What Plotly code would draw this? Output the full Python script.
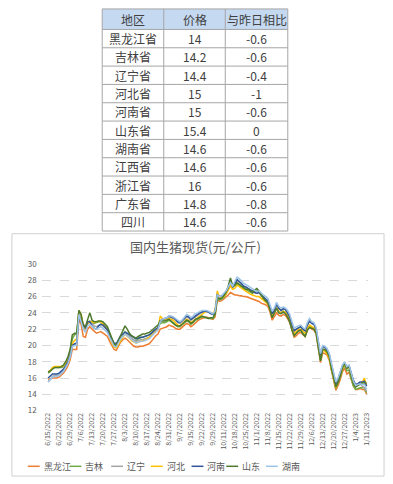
import plotly.graph_objects as go

# ---------------- table data ----------------
table_header = ["地区", "价格", "与昨日相比"]
table_regions = ["黑龙江省", "吉林省", "辽宁省", "河北省", "河南省", "山东省",
                 "湖南省", "江西省", "浙江省", "广东省", "四川"]
table_prices = [14, 14.2, 14.4, 15, 15, 15.4, 14.6, 14.6, 16, 14.8, 14.6]
table_changes = [-0.6, -0.6, -0.4, -1, -0.6, 0, -0.6, -0.6, -0.6, -0.8, -0.6]

# ---------------- chart data ----------------
chart_title = "国内生猪现货(元/公斤)"
tick_labels = ["6/15/2022", "6/22/2022", "6/29/2022", "7/6/2022", "7/13/2022", "7/20/2022",
               "7/27/2022", "8/3/2022", "8/10/2022", "8/17/2022", "8/24/2022", "8/31/2022",
               "9/7/2022", "9/15/2022", "9/22/2022", "9/29/2022", "10/11/2022", "10/18/2022",
               "10/25/2022", "11/1/2022", "11/8/2022", "11/15/2022", "11/22/2022", "11/29/2022",
               "12/6/2022", "12/13/2022", "12/20/2022", "12/27/2022", "1/4/2023", "1/11/2023"]
label_step = 5  # one tick label every 5 trading days

heilongjiang = [15.8,15.9,16.0,16.0,16.0,16.1,16.3,16.6,17.0,17.5,
18.2,19.5,19.5,19.5,23.2,22.6,21.1,21.0,22.0,22.3,
22.0,21.7,21.5,21.6,21.7,21.5,21.3,21.1,20.5,20.0,
19.5,19.4,19.9,20.4,20.7,20.9,20.7,20.4,20.1,19.9,
19.8,19.8,19.9,19.9,20.0,20.1,20.2,20.5,20.9,21.2,
21.4,22.0,22.1,22.2,22.3,22.5,22.4,22.3,22.1,22.0,
22.0,22.2,22.5,22.7,22.6,22.3,22.5,22.8,23.0,23.2,
23.3,23.4,23.5,23.4,23.3,23.2,23.5,25.6,25.4,25.5,
25.7,25.9,26.2,26.5,26.3,26.2,26.2,26.1,26.1,26.0,
26.0,25.9,25.8,25.7,25.6,25.5,25.4,25.2,25.1,25.0,
24.8,24.1,23.1,23.5,24.0,23.7,23.6,23.8,23.7,23.3,
22.8,21.9,21.0,21.2,21.5,21.6,21.3,21.1,21.8,22.3,
22.0,21.9,21.4,19.8,17.9,19.1,19.0,18.8,18.2,16.9,
15.6,14.5,15.1,15.8,16.8,17.2,16.5,16.7,15.8,15.0,
14.6,14.6,14.7,14.6,14.6,14.0]

jilin = [16.6,16.8,17.2,17.3,17.3,17.3,17.3,17.4,17.8,18.3,
19.2,20.8,21.3,21.4,24.2,23.6,22.5,22.2,22.9,23.0,
22.8,22.7,22.8,22.9,22.9,22.7,22.4,22.1,21.4,20.6,
20.0,19.8,20.3,20.8,21.2,21.7,21.4,21.0,20.8,20.6,
20.5,20.8,20.9,21.0,21.1,21.2,21.3,21.5,21.8,21.9,
22.1,22.7,22.8,22.8,22.9,23.1,22.9,22.6,22.4,22.3,
22.3,22.5,22.8,23.0,22.9,22.6,22.8,23.1,23.2,23.4,
23.5,23.5,23.4,23.3,23.3,23.3,23.8,25.8,25.6,25.7,
25.9,26.3,27.0,27.9,27.2,27.3,27.6,27.4,27.1,26.9,
26.8,26.7,26.5,26.4,26.6,26.8,26.6,26.1,25.7,25.5,
25.3,24.5,23.5,24.0,24.6,24.1,24.0,24.2,24.0,23.6,
23.0,22.0,21.3,21.6,21.8,21.9,21.5,21.2,22.0,22.3,
22.2,22.1,21.6,19.9,18.2,19.4,19.4,19.1,18.5,17.0,
15.8,14.7,15.4,16.1,17.1,17.5,16.9,17.0,15.9,15.0,
14.6,14.7,14.8,14.8,14.8,14.2]

liaoning = [15.5,15.9,16.2,16.3,16.3,16.4,16.6,16.9,17.4,17.9,
18.6,19.9,20.1,20.2,24.1,23.3,22.4,21.9,22.7,22.9,
22.6,22.4,22.3,22.5,22.6,22.4,22.1,21.9,21.3,20.7,
20.2,20.0,20.5,21.0,21.3,21.6,21.4,21.1,20.9,20.7,
20.5,20.6,20.7,20.7,20.8,20.9,21.0,21.3,21.6,21.8,
22.1,22.9,23.1,23.2,23.3,23.5,23.4,23.3,23.1,22.8,
22.7,22.9,23.2,23.5,23.4,23.1,23.3,23.6,23.7,23.9,
24.0,24.1,24.2,24.1,23.9,23.8,24.1,26.1,25.9,26.0,
26.2,26.5,27.0,27.8,27.1,27.4,28.0,27.8,27.5,27.2,
27.1,27.0,26.8,26.6,26.5,26.4,26.5,26.2,25.9,25.7,
25.5,24.8,23.9,24.3,25.0,24.5,24.3,24.5,24.4,24.0,
23.5,22.6,21.8,22.0,22.2,22.3,22.0,21.8,22.5,23.0,
22.7,22.6,22.0,20.4,18.7,19.8,19.7,19.4,18.8,17.5,
16.2,15.2,15.8,16.5,17.4,17.8,17.2,17.4,16.4,15.5,
15.0,15.1,15.3,15.0,14.8,14.4]

hebei = [16.8,16.9,17.3,17.4,17.4,17.4,17.4,17.5,17.9,18.2,
18.9,20.2,20.6,20.8,24.3,23.8,22.6,22.0,22.7,22.9,
22.9,22.8,22.9,23.0,22.9,22.6,22.2,21.9,21.1,20.3,
19.8,19.7,20.1,20.6,21.0,21.4,21.2,20.9,20.6,20.4,
20.3,20.4,20.5,20.6,20.6,20.8,20.9,21.2,21.5,21.7,
22.0,23.6,23.3,23.2,23.2,23.3,23.2,23.1,22.8,22.5,
22.4,22.6,22.9,23.2,23.1,22.8,23.0,23.3,23.5,23.7,
23.8,24.0,24.2,24.1,24.0,23.9,24.3,26.7,25.9,25.9,
26.0,26.3,26.8,27.3,26.9,27.0,27.4,27.2,27.0,26.8,
26.7,26.5,26.3,26.2,26.1,26.0,26.0,25.8,25.5,25.3,
25.1,24.5,23.6,24.0,24.6,24.2,24.0,24.2,24.1,23.7,
23.2,22.3,21.5,21.7,22.0,22.0,21.7,21.5,22.1,22.5,
22.3,22.2,21.7,20.0,18.4,19.5,19.3,19.0,18.4,17.1,
15.8,14.8,15.5,16.2,17.2,17.7,17.2,17.4,16.3,15.4,
15.0,15.1,15.3,15.5,16.0,15.0]

henan = [16.0,16.3,16.5,16.5,16.5,16.6,16.8,17.1,17.5,18.0,
18.8,20.0,20.2,20.3,23.6,22.9,22.6,22.1,22.9,22.9,
22.4,22.1,22.0,22.4,22.6,22.5,22.2,21.9,21.3,20.8,
20.3,20.2,20.7,21.2,21.4,21.6,21.5,21.3,21.1,20.9,
20.8,20.9,21.0,21.0,21.1,21.2,21.3,21.5,21.8,22.0,
22.2,23.0,23.2,23.3,23.4,23.6,23.5,23.4,23.2,22.9,
22.8,23.0,23.3,23.6,23.5,23.2,23.4,23.7,23.8,24.0,
24.1,24.2,24.2,24.1,23.9,23.8,24.1,26.2,26.0,26.1,
26.3,26.6,27.1,28.0,27.2,27.5,28.1,27.9,27.6,27.3,
27.2,27.0,26.8,26.6,26.5,26.4,26.5,26.2,25.9,25.7,
25.5,24.8,23.9,24.3,25.1,24.6,24.3,24.5,24.4,24.0,
23.5,22.6,21.8,22.0,22.2,22.3,22.0,21.8,22.5,23.0,
22.7,22.6,22.0,20.5,18.8,19.9,19.8,19.5,18.9,17.6,
16.3,15.3,15.9,16.6,17.5,17.9,17.3,17.5,16.5,15.7,
15.2,15.3,15.5,15.5,15.6,15.0]

shandong = [16.7,16.9,17.2,17.3,17.3,17.3,17.4,17.6,18.0,18.6,
19.5,21.3,21.5,21.5,24.3,23.8,22.4,22.3,23.2,24.0,
23.1,22.9,22.9,23.0,23.0,22.9,22.6,22.3,21.6,20.9,
20.2,20.0,20.6,21.3,21.9,22.4,22.0,21.5,21.2,21.0,
20.9,21.1,21.3,21.4,21.4,21.5,21.6,21.8,22.1,22.3,
22.5,23.0,23.0,23.0,23.1,23.2,23.0,22.7,22.5,22.4,
22.4,22.6,22.9,23.1,23.0,22.7,22.9,23.2,23.3,23.5,
23.6,23.5,23.4,23.3,23.4,23.4,23.9,25.9,25.7,25.8,
26.1,26.5,27.3,28.3,27.3,27.4,27.7,27.5,27.2,27.0,
26.9,26.9,26.7,26.5,26.8,27.0,26.7,26.2,25.8,25.5,
25.2,24.4,23.4,24.0,24.6,24.0,23.9,24.1,23.9,23.5,
22.9,21.9,21.2,21.5,21.8,21.9,21.4,21.1,21.9,22.2,
22.1,22.0,21.5,19.7,18.1,19.5,19.5,19.2,18.6,17.2,
15.9,14.9,15.5,16.2,17.3,17.8,17.2,17.4,16.2,15.3,
14.9,15.1,15.3,15.4,15.4,15.4]

hunan = [15.5,15.8,16.1,16.2,16.2,16.3,16.5,16.8,17.3,17.8,
18.6,19.9,20.0,20.0,23.8,22.8,22.0,21.6,22.4,22.6,
22.3,22.1,22.0,22.2,22.3,22.1,21.8,21.6,21.0,20.4,
19.9,19.8,20.3,20.8,21.1,21.4,21.2,20.9,20.7,20.5,
20.3,20.4,20.5,20.5,20.6,20.7,20.8,21.1,21.4,21.6,
21.9,22.9,23.2,23.3,23.4,23.6,23.6,23.5,23.3,23.0,
22.9,23.1,23.5,23.8,23.7,23.4,23.6,23.9,24.0,24.2,
24.3,24.3,24.3,24.2,24.0,23.9,24.2,26.2,26.0,26.1,
26.4,26.7,27.2,27.7,27.3,27.8,28.4,28.2,27.9,27.6,
27.5,27.3,27.1,26.9,26.7,26.6,26.7,26.4,26.2,26.0,
25.8,25.0,24.2,24.6,25.3,24.8,24.6,24.7,24.6,24.3,
23.8,22.9,22.1,22.3,22.4,22.5,22.2,22.0,22.8,23.3,
22.9,22.8,22.2,20.6,19.0,20.0,19.9,19.6,19.0,17.8,
16.5,15.5,16.0,16.7,17.6,18.0,17.4,17.6,16.6,15.6,
15.1,15.2,15.3,15.2,15.2,14.6]

series_names = ["黑龙江", "吉林", "辽宁", "河北", "河南", "山东", "湖南"]
series_values = [heilongjiang, jilin, liaoning, hebei, henan, shandong, hunan]
series_colors = ["#ED7D31", "#70AD47", "#A5A5A5", "#FFC000", "#2F5597", "#4E7A2E", "#9DC3E6"]

# ---------------- layout helpers (pixel -> paper) ----------------
W, H = 393, 484
def px(x):
    return x / W
def py(y):
    return 1 - y / H

FONT = "Noto Sans CJK SC, Noto Sans, sans-serif"
GRAY_TXT = "#595959"
TABLE_TXT = "#404040"
TABLE_LINE = "#A6A6A6"

fig = go.Figure()

# lines
for name, vals, col in zip(series_names, series_values, series_colors):
    fig.add_trace(go.Scatter(x=list(range(len(vals))), y=vals, mode="lines", name=name,
                             line=dict(color=col, width=1.5), showlegend=False))

n_pts = len(heilongjiang)
tick_vals = list(range(0, n_pts, label_step))[:len(tick_labels)]

fig.update_layout(
    width=W, height=H,
    margin=dict(l=0, r=0, t=0, b=0),
    paper_bgcolor="white", plot_bgcolor="white",
    font=dict(family=FONT, color=GRAY_TXT),
    xaxis=dict(domain=[px(42), px(371)], range=[-2.94, 145.7],
               tickmode="array", tickvals=tick_vals, ticktext=tick_labels,
               tickangle=-90, tickfont=dict(size=7, color=GRAY_TXT),
               showgrid=False, zeroline=False, showline=False, ticks=""),
    yaxis=dict(domain=[py(414), py(264)], range=[12, 30], dtick=2,
               tickfont=dict(size=8, color=GRAY_TXT),
               showgrid=True, gridcolor="#D9D9D9", griddash="dash", gridwidth=1,
               zeroline=False, showline=False, ticks="", ticklabelstandoff=4),
)

shapes = []
annotations = []

# ---------------- table (drawn as cells) ----------------
col_edges = [103, 165, 227, 290]
header_top, header_bottom, row_h = 3, 24, 18.75
table_columns = [table_regions, table_prices, table_changes]
n_rows = len(table_regions)
row_edges = [header_top, header_bottom] + [header_bottom + row_h * (k + 1) for k in range(n_rows)]
shapes.append(dict(type="rect", xref="paper", yref="paper",
                   x0=px(col_edges[0]), x1=px(col_edges[-1]), y0=py(header_bottom), y1=py(header_top),
                   fillcolor="#C5D9F1", line=dict(width=0), layer="below"))
for ye in row_edges:
    shapes.append(dict(type="line", xref="paper", yref="paper",
                       x0=px(col_edges[0]), x1=px(col_edges[-1]), y0=py(ye), y1=py(ye),
                       line=dict(color=TABLE_LINE, width=1)))
for xe in col_edges:
    shapes.append(dict(type="line", xref="paper", yref="paper",
                       x0=px(xe), x1=px(xe), y0=py(row_edges[-1]), y1=py(row_edges[0]),
                       line=dict(color=TABLE_LINE, width=1)))
for c, head in enumerate(table_header):
    xc = (col_edges[c] + col_edges[c + 1]) / 2
    annotations.append(dict(text=head, xref="paper", yref="paper", x=px(xc),
                            y=py((header_top + header_bottom) / 2), showarrow=False,
                            xanchor="center", yanchor="middle",
                            font=dict(family=FONT, size=12, color=TABLE_TXT)))
    for r, val in enumerate(table_columns[c]):
        yc = (row_edges[r + 1] + row_edges[r + 2]) / 2
        annotations.append(dict(text=str(val), xref="paper", yref="paper", x=px(xc), y=py(yc),
                                showarrow=False, xanchor="center", yanchor="middle",
                                font=dict(family=FONT, size=12, color=TABLE_TXT)))

# chart frame
shapes.append(dict(type="rect", xref="paper", yref="paper",
                   x0=px(12), x1=px(387), y0=py(481), y1=py(233),
                   line=dict(color="#D0D0D0", width=1), fillcolor="rgba(0,0,0,0)", layer="below"))
# title
annotations.append(dict(text=chart_title, xref="paper", yref="paper", x=px(197), y=py(246),
                        showarrow=False, xanchor="center", yanchor="middle",
                        font=dict(family=FONT, size=13, color=GRAY_TXT)))
# manual legend
legend_line_x = [28, 70, 112, 152, 193, 228, 268]
legend_y = 471
for name, col, lx in zip(series_names, series_colors, legend_line_x):
    shapes.append(dict(type="line", xref="paper", yref="paper",
                       x0=px(lx), x1=px(lx + 12), y0=py(legend_y), y1=py(legend_y),
                       line=dict(color=col, width=1.5)))
    annotations.append(dict(text=name, xref="paper", yref="paper", x=px(lx + 14), y=py(legend_y),
                            showarrow=False, xanchor="left", yanchor="middle",
                            font=dict(family=FONT, size=9, color=GRAY_TXT)))

fig.update_layout(shapes=shapes, annotations=annotations)
fig.write_html("out.html", config={"displayModeBar": False},
               post_script="document.body.style.margin='0';document.body.style.overflow='hidden';")
